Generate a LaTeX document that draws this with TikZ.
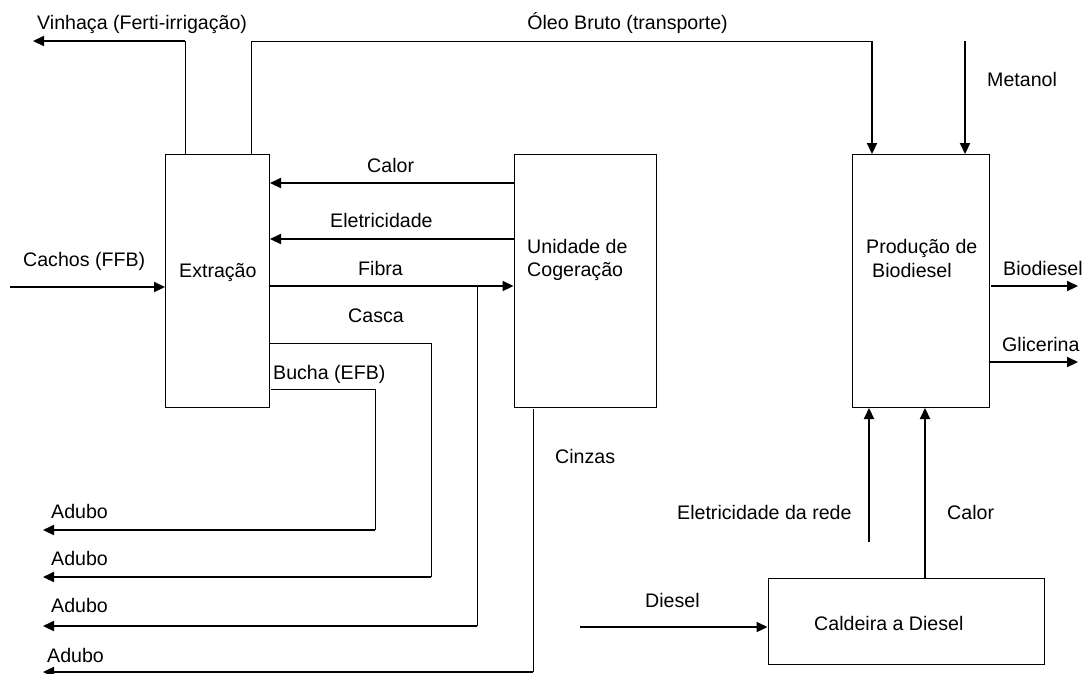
\documentclass[tikz,border=0pt]{standalone}
\usepackage{fontspec}
\newfontfamily\lbf{Liberation Sans}
\usetikzlibrary{arrows.meta}
\begin{document}
\begin{tikzpicture}[x=1pt,y=-1pt,
  box/.style={draw, line width=1pt, inner sep=0pt},
  lbl/.style={inner sep=0pt, anchor=base west, font=\lbf\fontsize{19.6}{23}\selectfont},
  flow/.style={line width=2.2pt, -{Triangle[length=11pt,width=10pt]}},
  pipe/.style={line width=1pt}]
\clip (0,0) rectangle (1085,673);
\fill[white] (0,0) rectangle (1085,673);
% boxes
\node[box, minimum width=104pt, minimum height=253pt] (extr) at (217.5,281) {};
\node[box, minimum width=142pt, minimum height=253pt] (cog) at (585,281) {};
\node[box, minimum width=137pt, minimum height=253pt] (prod) at (920.5,281) {};
\node[box, minimum width=276pt, minimum height=86pt] (cald) at (906,621) {};
% box texts
\node[lbl] (extrt) at (179,277) {Extração};
\node[lbl] (cogt1) at (527,253) {Unidade de};
\node[lbl] (cogt2) at (527,276) {Cogeração};
\node[lbl] (prodt1) at (866,253) {Produção de};
\node[lbl] (prodt2) at (872,277) {Biodiesel};
\node[lbl] (caldt) at (814,630) {Caldeira a Diesel};
% labels
\node[lbl] (lvin) at (37,29) {Vinhaça (Ferti-irrigação)};
\node[lbl, anchor=base east] (lole) at (728,29) {Óleo Bruto (transporte)};
\node[lbl] (lmet) at (987,86) {Metanol};
\node[lbl] (lcach) at (23,266) {Cachos (FFB)};
\node[lbl] (lcal1) at (367,172) {Calor};
\node[lbl] (lele) at (330,227) {Eletricidade};
\node[lbl] (lfib) at (358,275) {Fibra};
\node[lbl] (lcas) at (348,322) {Casca};
\node[lbl] (lbuc) at (273,379) {Bucha (EFB)};
\node[lbl] (lcin) at (555,463) {Cinzas};
\node[lbl] (lbio) at (1003,275) {Biodiesel};
\node[lbl] (lgli) at (1002,351) {Glicerina};
\node[lbl] (lrede) at (677,519) {Eletricidade da rede};
\node[lbl] (lcal2) at (947,519) {Calor};
\node[lbl] (ldie) at (645,607) {Diesel};
\node[lbl] (ad1) at (51,518) {Adubo};
\node[lbl] (ad2) at (51,565) {Adubo};
\node[lbl] (ad3) at (51,612) {Adubo};
\node[lbl] (ad4) at (47,662) {Adubo};
% coordinates
\coordinate (vinB) at (185,41);
\coordinate (vinE) at (33,41);
\coordinate (oleB) at (251,41);
\coordinate (oleC) at (872,41);
\coordinate (metS) at (965,41);
\coordinate (cachS) at (10,287);
\coordinate (bioS) at (991,286);
\coordinate (bioE) at (1078,286);
\coordinate (gliS) at (989,362);
\coordinate (gliE) at (1078,362);
\coordinate (yCal) at (0,183);
\coordinate (yEle) at (0,239);
\coordinate (yFib) at (0,286);
\coordinate (fibB) at (477,286);
\coordinate (fibC) at (477,626);
\coordinate (fibE) at (43,626);
\coordinate (casA) at (270,343);
\coordinate (casB) at (431,343);
\coordinate (casC) at (431,577);
\coordinate (casE) at (43,577);
\coordinate (bucA) at (271,389);
\coordinate (bucB) at (375,389);
\coordinate (bucC) at (375,530);
\coordinate (bucE) at (43,530);
\coordinate (cinA) at (533,409);
\coordinate (cinC) at (533,672);
\coordinate (cinE) at (43,672);
\coordinate (redeS) at (869,542);
\coordinate (xCal) at (925,0);
\coordinate (dieS) at (580,627);
% connectors
\draw[pipe] (extr.north -| vinB) -- (vinB);
\draw[flow] (vinB) -- (vinE);
\draw[pipe] (extr.north -| oleB) -- (oleB) -- (oleC);
\draw[flow] (oleC) -- (prod.north -| oleC);
\draw[flow] (metS) -- (prod.north -| metS);
\draw[flow] (cachS) -- (extr.west |- cachS);
\draw[flow] (cog.west |- yCal) -- (extr.east |- yCal);
\draw[flow] (cog.west |- yEle) -- (extr.east |- yEle);
\draw[flow] (extr.east |- yFib) -- (cog.west |- yFib);
\draw[pipe] (fibB) -- (fibC);
\draw[flow] (fibC) -- (fibE);
\draw[pipe] (casA) -- (casB) -- (casC);
\draw[flow] (casC) -- (casE);
\draw[pipe] (bucA) -- (bucB) -- (bucC);
\draw[flow] (bucC) -- (bucE);
\draw[pipe] (cinA) -- (cinC);
\draw[flow] (cinC) -- (cinE);
\draw[flow] (bioS) -- (bioE);
\draw[flow] (gliS) -- (gliE);
\draw[flow] (redeS) -- (prod.south -| redeS);
\draw[flow] (cald.north -| xCal) -- (prod.south -| xCal);
\draw[flow] (dieS) -- (cald.west |- dieS);
\end{tikzpicture}
\end{document}
